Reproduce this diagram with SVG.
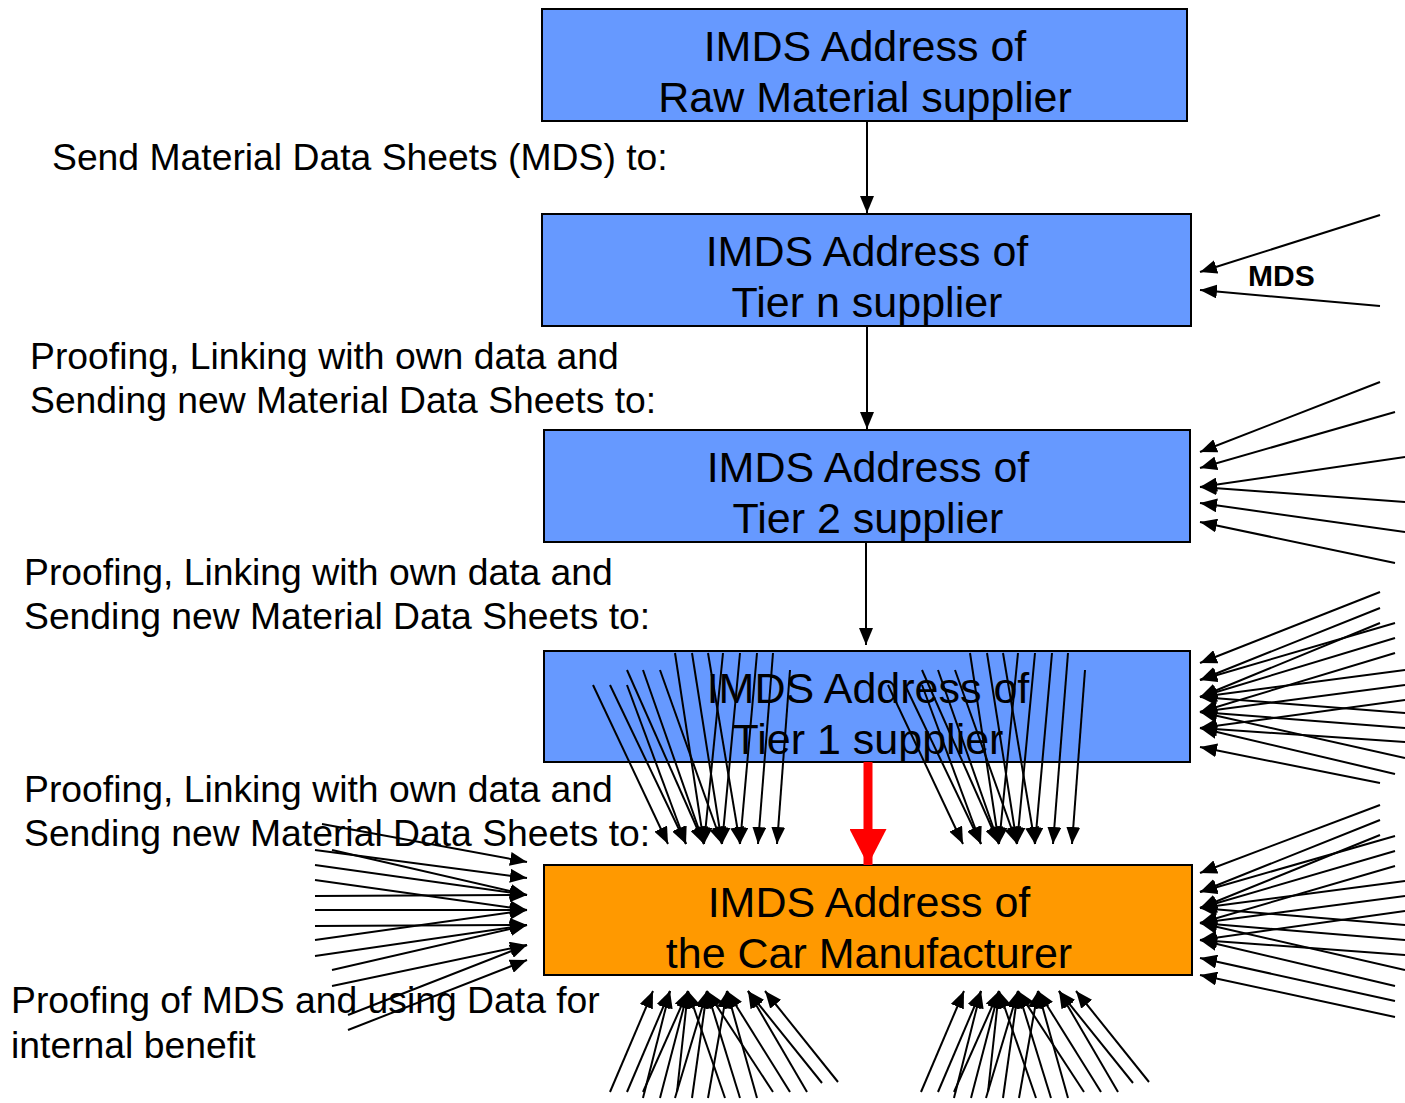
<svg xmlns="http://www.w3.org/2000/svg" width="1405" height="1103" viewBox="0 0 1405 1103">
<style>
.box{stroke:#000;stroke-width:2}
.blue{fill:#6699FF}
.orange{fill:#FF9900}
.bt{font-family:"Liberation Sans",Arial,sans-serif;font-size:43px;fill:#000;text-anchor:middle}
.lt{font-family:"Liberation Sans",Arial,sans-serif;font-size:37.3px;fill:#000}
.mds{font-family:"Liberation Sans",Arial,sans-serif;font-size:30px;font-weight:bold;fill:#000}
.c line{stroke:#000;stroke-width:2;marker-end:url(#ah)}
.c line.red{stroke:#FF0000;stroke-width:9;marker-end:url(#rh)}
</style>
<defs>
<marker id="ah" viewBox="0 0 17 14" markerWidth="17" markerHeight="14" refX="17" refY="7" orient="auto" markerUnits="userSpaceOnUse">
<path d="M0,0 L17,7 L0,14 z" fill="#000"/>
</marker>
<marker id="rh" viewBox="0 0 36 37" markerWidth="36" markerHeight="37" refX="36" refY="18.5" orient="auto" markerUnits="userSpaceOnUse">
<path d="M0,0 L36,18.5 L0,37 z" fill="#FF0000"/>
</marker>
</defs>
<rect width="1405" height="1103" fill="#fff"/>

<g id="raw">
<rect class="box blue" x="542" y="9" width="645" height="112"/>
<text class="bt" x="865" y="61">IMDS Address of</text>
<text class="bt" x="865" y="112">Raw Material supplier</text>
</g>
<g id="tiern">
<rect class="box blue" x="542" y="214" width="649" height="112"/>
<text class="bt" x="867" y="266">IMDS Address of</text>
<text class="bt" x="867" y="317">Tier n supplier</text>
</g>
<g id="tier2">
<rect class="box blue" x="544" y="430" width="646" height="112"/>
<text class="bt" x="868" y="482">IMDS Address of</text>
<text class="bt" x="868" y="533">Tier 2 supplier</text>
</g>
<g id="tier1">
<rect class="box blue" x="544" y="651" width="646" height="111"/>
<text class="bt" x="868" y="703">IMDS Address of</text>
<text class="bt" x="868" y="754">Tier 1 supplier</text>
</g>
<g id="car">
<rect class="box orange" x="544" y="865" width="648" height="110"/>
<text class="bt" x="869" y="917">IMDS Address of</text>
<text class="bt" x="869" y="968">the Car Manufacturer</text>
</g>

<g id="labels">
<text class="lt" x="52" y="170">Send Material Data Sheets (MDS) to:</text>
<text class="lt" x="30" y="369">Proofing, Linking with own data and</text>
<text class="lt" x="30" y="413">Sending new Material Data Sheets to:</text>
<text class="lt" x="24" y="585">Proofing, Linking with own data and</text>
<text class="lt" x="24" y="629">Sending new Material Data Sheets to:</text>
<text class="lt" x="24" y="802">Proofing, Linking with own data and</text>
<text class="lt" x="24" y="846">Sending new Material Data Sheets to:</text>
<text class="lt" x="11" y="1013">Proofing of MDS and using Data for</text>
<text class="lt" x="11" y="1058">internal benefit</text>
<text class="mds" x="1248" y="286">MDS</text>
</g>

<g id="connectors" class="c">
<line x1="867" y1="121" x2="867" y2="213"/>
<line x1="867" y1="326" x2="867" y2="429"/>
<line x1="866" y1="542" x2="866" y2="645"/>
<line class="red" x1="868" y1="762" x2="868" y2="865"/>

<!-- MDS fan -->
<line x1="1380" y1="215" x2="1200" y2="272"/>
<line x1="1380" y1="306" x2="1200" y2="290"/>

<!-- Tier 2 right fan -->
<line x1="1380" y1="382" x2="1200" y2="452"/>
<line x1="1395" y1="412" x2="1200" y2="468"/>
<line x1="1405" y1="457" x2="1200" y2="487"/>
<line x1="1405" y1="502" x2="1200" y2="487"/>
<line x1="1405" y1="532" x2="1200" y2="503"/>
<line x1="1395" y1="563" x2="1200" y2="522"/>

<!-- Tier 1 right fan -->
<line x1="1380" y1="592" x2="1200" y2="663"/>
<line x1="1380" y1="608" x2="1200" y2="680"/>
<line x1="1380" y1="623" x2="1200" y2="697"/>
<line x1="1395" y1="623" x2="1200" y2="680"/>
<line x1="1395" y1="638" x2="1200" y2="697"/>
<line x1="1395" y1="653" x2="1200" y2="712"/>
<line x1="1405" y1="670" x2="1200" y2="697"/>
<line x1="1405" y1="685" x2="1200" y2="712"/>
<line x1="1405" y1="700" x2="1200" y2="728"/>
<line x1="1405" y1="713" x2="1200" y2="697"/>
<line x1="1405" y1="728" x2="1200" y2="712"/>
<line x1="1405" y1="742" x2="1200" y2="728"/>
<line x1="1405" y1="758" x2="1200" y2="712"/>
<line x1="1395" y1="774" x2="1200" y2="728"/>
<line x1="1380" y1="783" x2="1200" y2="747"/>

<!-- Tier 1 bottom-left fan -->
<line x1="593" y1="685" x2="668" y2="844"/>
<line x1="610" y1="685" x2="686" y2="844"/>
<line x1="627" y1="670" x2="704" y2="844"/>
<line x1="627" y1="685" x2="686" y2="844"/>
<line x1="643" y1="670" x2="704" y2="844"/>
<line x1="660" y1="670" x2="722" y2="844"/>
<line x1="675" y1="653" x2="704" y2="844"/>
<line x1="692" y1="653" x2="722" y2="844"/>
<line x1="708" y1="653" x2="740" y2="844"/>
<line x1="723" y1="653" x2="704" y2="844"/>
<line x1="740" y1="653" x2="722" y2="844"/>
<line x1="757" y1="653" x2="740" y2="844"/>
<line x1="773" y1="653" x2="758" y2="844"/>
<line x1="790" y1="670" x2="777" y2="844"/>

<!-- Tier 1 bottom-right fan -->
<line x1="888" y1="685" x2="963" y2="844"/>
<line x1="905" y1="685" x2="981" y2="844"/>
<line x1="922" y1="670" x2="999" y2="844"/>
<line x1="922" y1="685" x2="981" y2="844"/>
<line x1="938" y1="670" x2="999" y2="844"/>
<line x1="955" y1="670" x2="1017" y2="844"/>
<line x1="970" y1="653" x2="999" y2="844"/>
<line x1="987" y1="653" x2="1017" y2="844"/>
<line x1="1003" y1="653" x2="1035" y2="844"/>
<line x1="1018" y1="653" x2="999" y2="844"/>
<line x1="1035" y1="653" x2="1017" y2="844"/>
<line x1="1052" y1="653" x2="1035" y2="844"/>
<line x1="1068" y1="653" x2="1053" y2="844"/>
<line x1="1085" y1="670" x2="1072" y2="844"/>

<!-- Car right fan -->
<line x1="1380" y1="805" x2="1200" y2="873"/>
<line x1="1380" y1="820" x2="1200" y2="892"/>
<line x1="1380" y1="835" x2="1200" y2="908"/>
<line x1="1395" y1="836" x2="1200" y2="892"/>
<line x1="1395" y1="851" x2="1200" y2="908"/>
<line x1="1395" y1="866" x2="1200" y2="923"/>
<line x1="1405" y1="881" x2="1200" y2="908"/>
<line x1="1405" y1="896" x2="1200" y2="923"/>
<line x1="1405" y1="911" x2="1200" y2="940"/>
<line x1="1405" y1="925" x2="1200" y2="908"/>
<line x1="1405" y1="940" x2="1200" y2="923"/>
<line x1="1405" y1="955" x2="1200" y2="940"/>
<line x1="1405" y1="970" x2="1200" y2="923"/>
<line x1="1395" y1="986" x2="1200" y2="940"/>
<line x1="1395" y1="1001" x2="1200" y2="958"/>
<line x1="1395" y1="1017" x2="1200" y2="975"/>

<!-- Car left fan -->
<line x1="322" y1="824" x2="527" y2="862"/>
<line x1="315" y1="850" x2="527" y2="878"/>
<line x1="332" y1="850" x2="527" y2="895"/>
<line x1="315" y1="865" x2="527" y2="895"/>
<line x1="315" y1="880" x2="527" y2="910"/>
<line x1="315" y1="896" x2="527" y2="895"/>
<line x1="315" y1="910" x2="527" y2="910"/>
<line x1="315" y1="926" x2="527" y2="925"/>
<line x1="315" y1="940" x2="527" y2="910"/>
<line x1="315" y1="956" x2="527" y2="925"/>
<line x1="332" y1="970" x2="527" y2="925"/>
<line x1="332" y1="986" x2="527" y2="945"/>
<line x1="348" y1="1015" x2="527" y2="945"/>
<line x1="348" y1="1030" x2="527" y2="960"/>

<!-- Car bottom-left fan -->
<line x1="610" y1="1092" x2="653" y2="991"/>
<line x1="627" y1="1092" x2="670" y2="991"/>
<line x1="643" y1="1092" x2="688" y2="991"/>
<line x1="643" y1="1098" x2="670" y2="991"/>
<line x1="660" y1="1098" x2="688" y2="991"/>
<line x1="675" y1="1098" x2="707" y2="991"/>
<line x1="677" y1="1092" x2="688" y2="991"/>
<line x1="692" y1="1098" x2="707" y2="991"/>
<line x1="708" y1="1098" x2="727" y2="991"/>
<line x1="725" y1="1098" x2="688" y2="991"/>
<line x1="740" y1="1098" x2="707" y2="991"/>
<line x1="757" y1="1098" x2="727" y2="991"/>
<line x1="773" y1="1092" x2="707" y2="991"/>
<line x1="790" y1="1092" x2="727" y2="991"/>
<line x1="807" y1="1092" x2="748" y2="991"/>
<line x1="822" y1="1083" x2="748" y2="991"/>
<line x1="838" y1="1082" x2="765" y2="991"/>

<!-- Car bottom-right fan -->
<line x1="921" y1="1092" x2="964" y2="991"/>
<line x1="938" y1="1092" x2="981" y2="991"/>
<line x1="954" y1="1092" x2="999" y2="991"/>
<line x1="954" y1="1098" x2="981" y2="991"/>
<line x1="971" y1="1098" x2="999" y2="991"/>
<line x1="986" y1="1098" x2="1018" y2="991"/>
<line x1="988" y1="1092" x2="999" y2="991"/>
<line x1="1003" y1="1098" x2="1018" y2="991"/>
<line x1="1019" y1="1098" x2="1038" y2="991"/>
<line x1="1036" y1="1098" x2="999" y2="991"/>
<line x1="1051" y1="1098" x2="1018" y2="991"/>
<line x1="1068" y1="1098" x2="1038" y2="991"/>
<line x1="1084" y1="1092" x2="1018" y2="991"/>
<line x1="1101" y1="1092" x2="1038" y2="991"/>
<line x1="1118" y1="1092" x2="1059" y2="991"/>
<line x1="1133" y1="1083" x2="1059" y2="991"/>
<line x1="1149" y1="1082" x2="1076" y2="991"/>
</g>
</svg>
